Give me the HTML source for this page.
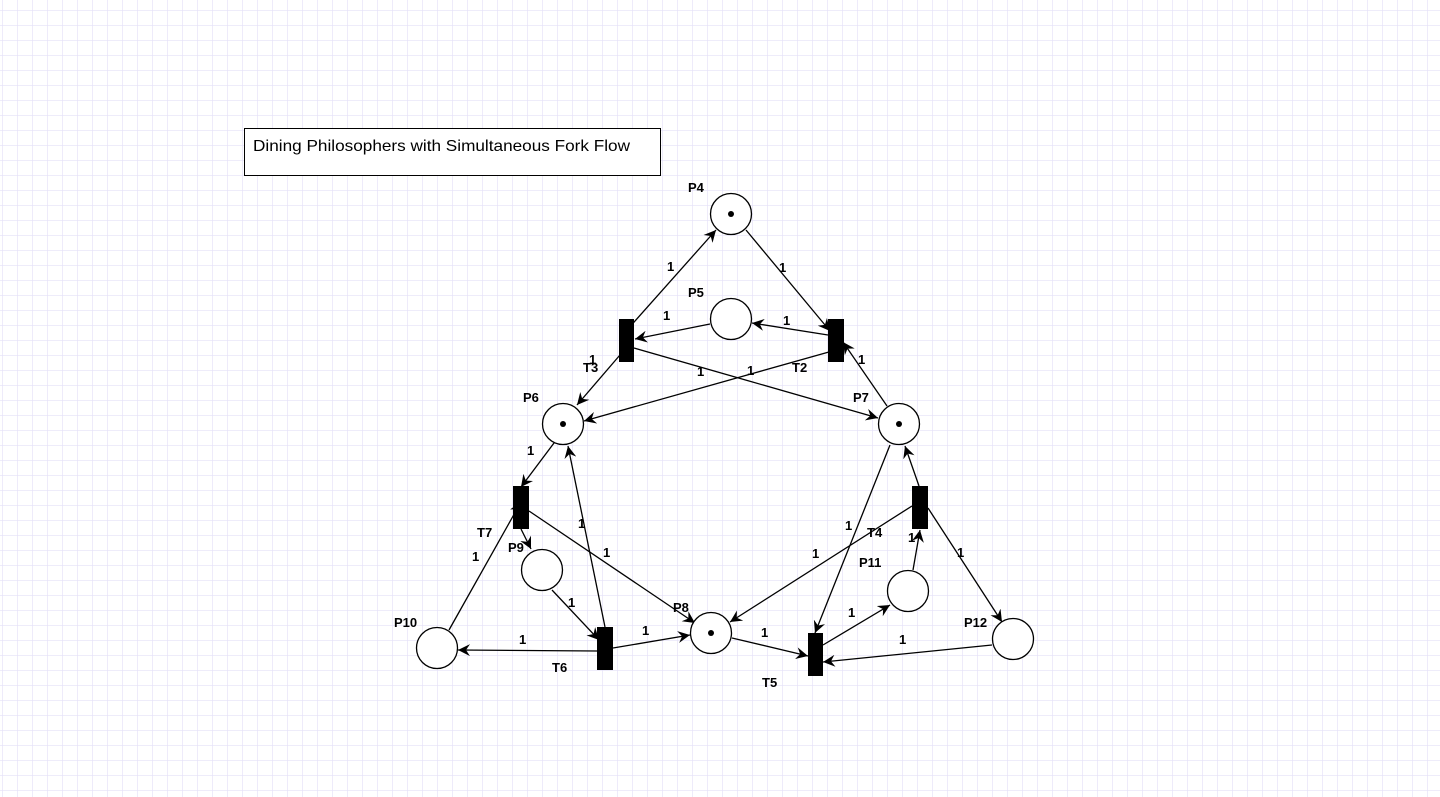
<!DOCTYPE html>
<html><head><meta charset="utf-8"><style>
html,body{margin:0;padding:0;background:#fff}
svg{display:block}
text{font-family:"Liberation Sans",sans-serif}
.l{font-size:13px;font-weight:bold}
</style></head><body>
<svg width="1440" height="797" xmlns="http://www.w3.org/2000/svg">
<defs>
<pattern id="g" x="2" y="10" width="15" height="15" patternUnits="userSpaceOnUse">
<path d="M0 0H15M0 0V15" stroke="#e4e0f8" stroke-width="1.3" fill="none"/>
</pattern>
<marker id="a" markerWidth="14" markerHeight="12" refX="12" refY="6" orient="auto" markerUnits="userSpaceOnUse">
<path d="M0 0L12 6L0 12L4 6Z" fill="#000"/>
</marker>
</defs>
<rect width="1440" height="797" fill="url(#g)"/>
<rect x="244.5" y="128.5" width="416" height="47" fill="#fff" stroke="#000"/>
<text x="253" y="151" font-size="16" textLength="377" lengthAdjust="spacingAndGlyphs">Dining Philosophers with Simultaneous Fork Flow</text>
<g stroke="#000" stroke-width="1.3" fill="none" marker-end="url(#a)">
<line x1="627" y1="330" x2="716" y2="230"/>
<line x1="746" y1="230" x2="830" y2="331"/>
<line x1="710" y1="324" x2="635" y2="339"/>
<line x1="828" y1="335" x2="752" y2="323"/>
<line x1="626" y1="348" x2="577" y2="405"/>
<line x1="634" y1="348" x2="878" y2="418"/>
<line x1="836" y1="350" x2="584" y2="421"/>
<line x1="887" y1="406" x2="843" y2="342"/>
<line x1="554" y1="443" x2="521" y2="487"/>
<line x1="605" y1="627" x2="568" y2="446"/>
<line x1="529" y1="511" x2="695" y2="623"/>
<line x1="521" y1="529" x2="531" y2="549"/>
<line x1="449" y1="630" x2="521" y2="502"/>
<line x1="552" y1="590" x2="599" y2="640"/>
<line x1="597" y1="651" x2="458" y2="650"/>
<line x1="613" y1="648" x2="690" y2="635"/>
<line x1="732" y1="638" x2="808" y2="656"/>
<line x1="890" y1="445" x2="815" y2="633"/>
<line x1="912" y1="506" x2="730" y2="622"/>
<line x1="919" y1="486" x2="905" y2="446"/>
<line x1="913" y1="570" x2="920" y2="530"/>
<line x1="823" y1="645" x2="890" y2="605"/>
<line x1="928" y1="508" x2="1002" y2="622"/>
<line x1="992" y1="645" x2="823" y2="662"/>
</g>
<g fill="#fff" stroke="#000" stroke-width="1.3">
<circle cx="731" cy="214" r="20.5"/>
<circle cx="731" cy="319" r="20.5"/>
<circle cx="563" cy="424" r="20.5"/>
<circle cx="899" cy="424" r="20.5"/>
<circle cx="542" cy="570" r="20.5"/>
<circle cx="711" cy="633" r="20.5"/>
<circle cx="437" cy="648" r="20.5"/>
<circle cx="908" cy="591" r="20.5"/>
<circle cx="1013" cy="639" r="20.5"/>
</g>
<g fill="#000">
<circle cx="731" cy="214" r="3"/>
<circle cx="563" cy="424" r="3"/>
<circle cx="899" cy="424" r="3"/>
<circle cx="711" cy="633" r="3"/>
<rect x="619" y="319" width="15" height="43"/>
<rect x="828" y="319" width="16" height="43"/>
<rect x="513" y="486" width="16" height="43"/>
<rect x="912" y="486" width="16" height="43"/>
<rect x="597" y="627" width="16" height="43"/>
<rect x="808" y="633" width="15" height="43"/>
</g>
<g class="l">
<text x="688" y="192">P4</text>
<text x="688" y="297">P5</text>
<text x="523" y="402">P6</text>
<text x="853" y="402">P7</text>
<text x="673" y="612">P8</text>
<text x="508" y="552">P9</text>
<text x="394" y="627">P10</text>
<text x="859" y="567">P11</text>
<text x="964" y="627">P12</text>
<text x="583" y="372">T3</text>
<text x="792" y="372">T2</text>
<text x="477" y="537">T7</text>
<text x="867" y="537">T4</text>
<text x="552" y="672">T6</text>
<text x="762" y="687">T5</text>
<text x="667" y="271">1</text>
<text x="779" y="272">1</text>
<text x="663" y="320">1</text>
<text x="783" y="325">1</text>
<text x="589" y="364">1</text>
<text x="697" y="376">1</text>
<text x="747" y="375">1</text>
<text x="858" y="364">1</text>
<text x="527" y="455">1</text>
<text x="578" y="528">1</text>
<text x="603" y="557">1</text>
<text x="472" y="561">1</text>
<text x="568" y="607">1</text>
<text x="519" y="644">1</text>
<text x="642" y="635">1</text>
<text x="761" y="637">1</text>
<text x="845" y="530">1</text>
<text x="812" y="558">1</text>
<text x="908" y="542">1</text>
<text x="848" y="617">1</text>
<text x="957" y="557">1</text>
<text x="899" y="644">1</text>
</g>
</svg>
</body></html>
